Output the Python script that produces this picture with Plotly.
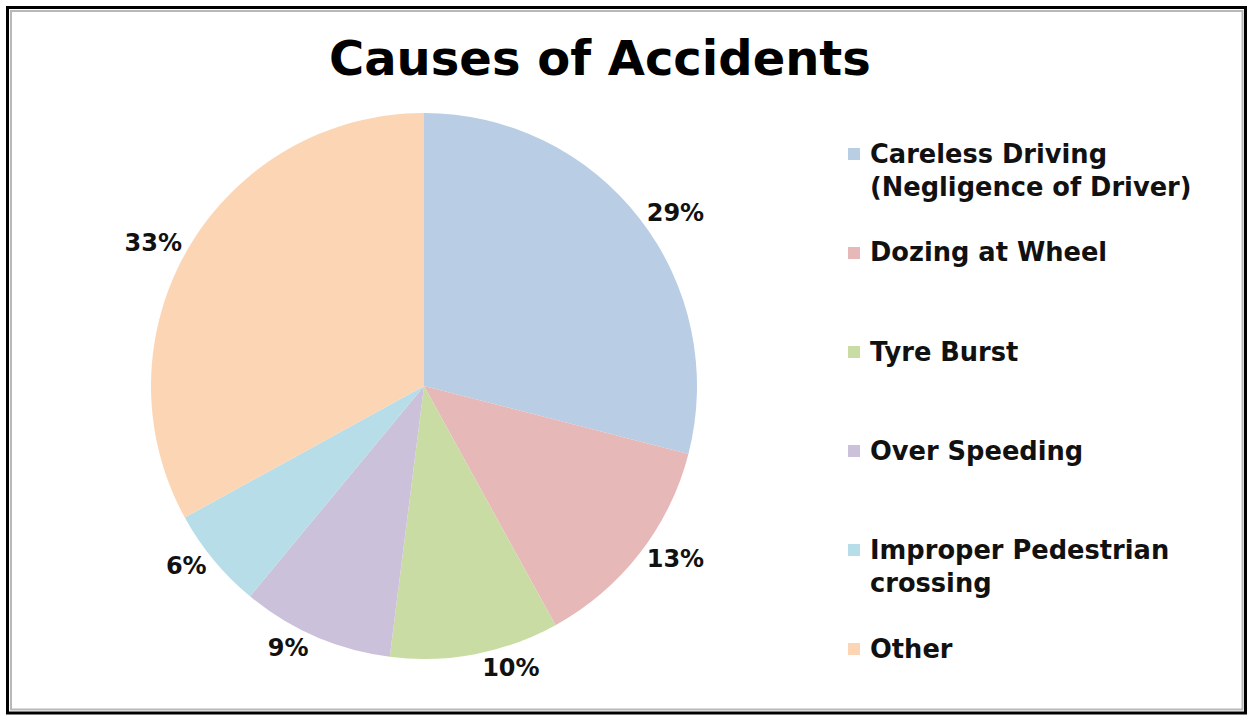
import plotly.graph_objects as go

# Data
causes = [
    "Careless Driving<br>(Negligence of Driver)",
    "Dozing at Wheel",
    "Tyre Burst",
    "Over Speeding",
    "Improper Pedestrian<br>crossing",
    "Other",
]
shares = [29, 13, 10, 9, 6, 33]
colors = ["#B9CDE5", "#E6B9B8", "#C9DCA4", "#CCC1DA", "#B7DEE8", "#FCD5B5"]

W, H = 1247, 715
FONT = "DejaVu Sans"


def px(x):
    return x / W


def py(y):
    return 1 - y / H


# Pie geometry (pixels)
cx, cy, r = 424, 386, 273

fig = go.Figure(
    go.Pie(
        labels=causes,
        values=shares,
        sort=False,
        direction="clockwise",
        rotation=0,
        marker=dict(colors=colors, line=dict(width=0)),
        texttemplate="%{percent:.0%}",
        textposition="outside",
        textfont=dict(family=FONT, size=24, color="#111111", weight="bold"),
        showlegend=False,
        domain=dict(x=[px(cx - r), px(cx + r)], y=[py(cy + r), py(cy - r)]),
        hoverinfo="label+percent",
    )
)

annotations = [
    dict(
        text="<b>Causes of Accidents</b>",
        x=px(600), y=py(58), xref="paper", yref="paper",
        xanchor="center", yanchor="middle", showarrow=False,
        font=dict(family=FONT, size=48, color="#000000"),
    )
]
shapes = []

# Legend drawn at the right
leg_x, leg_y0, leg_step, box = 848, 154, 99, 12
for i, (name, col) in enumerate(zip(causes, colors)):
    yc = leg_y0 + leg_step * i
    shapes.append(dict(
        type="rect", xref="paper", yref="paper",
        x0=px(leg_x), x1=px(leg_x + box), y0=py(yc + box / 2), y1=py(yc - box / 2),
        fillcolor=col, line=dict(width=0),
    ))
    annotations.append(dict(
        text="<b>" + name + "</b>",
        x=px(leg_x + 20), y=py(yc - 17.5), xref="paper", yref="paper",
        xanchor="left", yanchor="top", align="left", showarrow=False,
        font=dict(family=FONT, size=25.7, color="#111111"),
    ))

# Frame around the chart
shapes.append(dict(
    type="rect", xref="paper", yref="paper",
    x0=px(11), x1=px(1242.5), y0=py(709.5), y1=py(11),
    line=dict(color="#b8b8b8", width=2), fillcolor="rgba(0,0,0,0)",
))
shapes.append(dict(
    type="rect", xref="paper", yref="paper",
    x0=px(7.5), x1=px(1245.5), y0=py(713), y1=py(7.5),
    line=dict(color="#000000", width=3), fillcolor="rgba(0,0,0,0)",
))

fig.update_layout(
    width=W, height=H,
    margin=dict(l=0, r=0, t=0, b=0),
    paper_bgcolor="white",
    plot_bgcolor="white",
    annotations=annotations,
    shapes=shapes,
)

fig.write_html("out.html")
